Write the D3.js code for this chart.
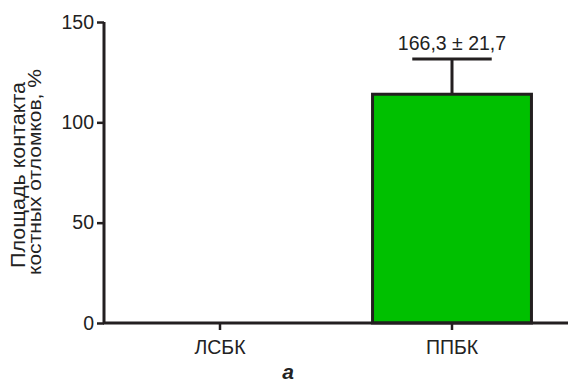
<!DOCTYPE html>
<html><head><meta charset="utf-8">
<script src="https://cdn.jsdelivr.net/npm/d3@7"></script>
<style>body{margin:0;background:#fff}svg{display:block}text{font-family:"Liberation Sans",Arial,sans-serif;fill:#222}</style>
</head><body><svg id="c" width="570" height="385"></svg>
<script>
const categories = ["ЛСБК", "ППБК"];
const values = [0, 114];
const errors = [0, 17.5];
const barLabels = ["", "166,3 ± 21,7"];
const yTicks = [0, 50, 100, 150];

const svg = d3.select("#c");
const x = d3.scaleBand().domain(categories).range([104, 568]).padding(0);
const y = d3.scaleLinear().domain([0, 150]).range([323, 22]);
const ink = "#231f20";
const ff = "Liberation Sans, Arial, sans-serif";

// bars
const bw = x.bandwidth() * 0.685;
categories.forEach((c, i) => {
  if (values[i] <= 0) return;
  const cx = x(c) + x.bandwidth() / 2;
  const g = svg.append("g");
  const top = y(values[i] + errors[i]);
  g.append("line").attr("x1", cx).attr("x2", cx).attr("y1", y(values[i])).attr("y2", top)
    .attr("stroke", ink).attr("stroke-width", 3);
  g.append("line").attr("x1", cx - bw / 4).attr("x2", cx + bw / 4).attr("y1", top).attr("y2", top)
    .attr("stroke", ink).attr("stroke-width", 3);
  g.append("rect").attr("x", cx - bw / 2).attr("y", y(values[i])).attr("width", bw).attr("height", y(0) - y(values[i]))
    .attr("fill", "#00c000").attr("stroke", ink).attr("stroke-width", 3);
  g.append("text").attr("x", cx).attr("y", top - 9).attr("text-anchor", "middle")
    .attr("font-size", 19.5).text(barLabels[i]);
});

// y axis
const ya = svg.append("g").attr("transform", "translate(104,0)")
  .call(d3.axisLeft(y).tickValues(yTicks).tickSize(7).tickPadding(3));
ya.select(".domain").attr("stroke", ink).attr("stroke-width", 3).attr("d", `M0,${y(150)}V${y(0)}`);
ya.selectAll(".tick line").attr("stroke", ink).attr("stroke-width", 2.5);
ya.selectAll(".tick text").attr("font-size", 19.5).attr("fill", "#222").attr("font-family", ff);

// x axis
const xa = svg.append("g").attr("transform", `translate(0,${y(0)})`)
  .call(d3.axisBottom(x).tickSize(7).tickPadding(10));
xa.select(".domain").attr("stroke", ink).attr("stroke-width", 3).attr("d", `M103,0H568`);
xa.selectAll(".tick line").attr("stroke", ink).attr("stroke-width", 2.5);
xa.selectAll(".tick text").attr("font-size", 19.5).attr("fill", "#222").attr("font-family", ff);

// y label
const yl = svg.append("g").attr("transform", "rotate(-90)");
yl.append("text").attr("x", -175).attr("y", 25).attr("text-anchor", "middle").attr("font-size", 20)
  .attr("textLength", 186).attr("lengthAdjust", "spacingAndGlyphs").text("Площадь контакта");
yl.append("text").attr("x", -172).attr("y", 41).attr("text-anchor", "middle").attr("font-size", 19)
  .attr("textLength", 206).attr("lengthAdjust", "spacingAndGlyphs").text("костных отломков, %");

// panel letter
svg.append("text").attr("x", 288).attr("y", 379).attr("text-anchor", "middle").attr("font-size", 21)
  .attr("font-weight", "bold").attr("font-style", "italic").text("а");
</script></body></html>
